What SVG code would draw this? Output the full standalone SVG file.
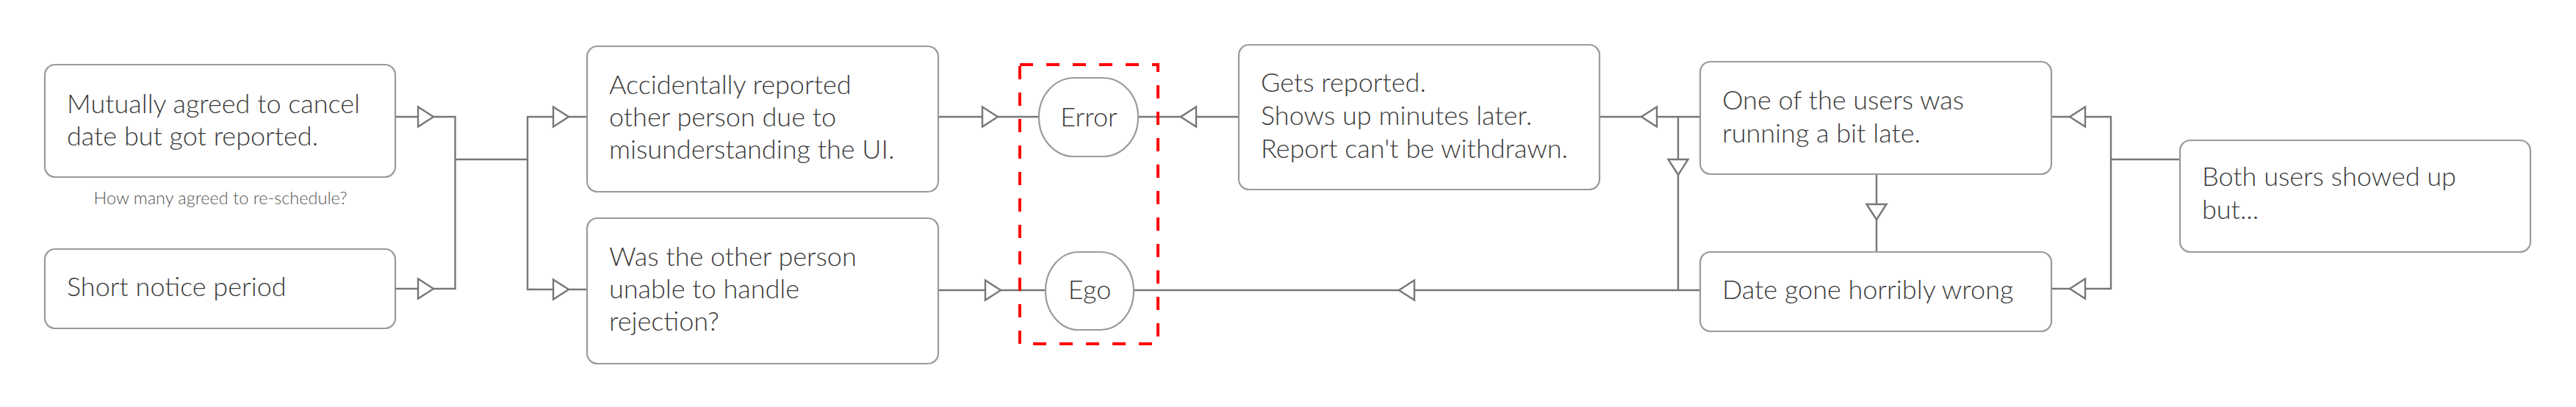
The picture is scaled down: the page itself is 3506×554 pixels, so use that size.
<svg xmlns="http://www.w3.org/2000/svg" xmlns:xlink="http://www.w3.org/1999/xlink" width="3506" height="554" viewBox="0 0 3506 554">
<style>
.box{fill:#fff;stroke:#9a9a9a;stroke-width:2.2}
.t{font-family:Lato,"Open Sans","Liberation Sans",sans-serif;font-weight:300;font-size:36px;fill:#3a3a3a}
.tc{text-anchor:middle}
.cap{font-family:Lato,"Open Sans","Liberation Sans",sans-serif;font-weight:300;font-size:23.5px;fill:#555;text-anchor:middle}
.ln{fill:none;stroke:#777;stroke-width:2.4}
.ah{fill:#fff;stroke:#777;stroke-width:2.4;stroke-linejoin:miter}
.grp{fill:none;stroke:#ff0000;stroke-width:4;stroke-dasharray:18 18}
</style>
<defs>
<path id="tri" d="M0 0 L-21 -13.5 L-21 13.5 Z"/>
</defs>
<rect width="3506" height="554" fill="#fff"/>
<g id="connectors">
<path class="ln" d="M539 159 H619.5 V393 H539"/>
<path class="ln" d="M619.5 217 H718"/>
<path class="ln" d="M799 159 H718 V394 H799"/>
<path class="ln" d="M1277 159 H1414"/>
<path class="ln" d="M1277 395 H1423"/>
<path class="ln" d="M1549 159 H1686"/>
<path class="ln" d="M2177 159 H2314"/>
<path class="ln" d="M2284 159 V395"/>
<path class="ln" d="M1543 395 H2314"/>
<path class="ln" d="M2554 237 V343"/>
<path class="ln" d="M2792 159 H2873 V393 H2792"/>
<path class="ln" d="M2873 217 H2967"/>
<use xlink:href="#tri" class="ah" transform="translate(590 159)"/>
<use xlink:href="#tri" class="ah" transform="translate(590 393)"/>
<use xlink:href="#tri" class="ah" transform="translate(774 159)"/>
<use xlink:href="#tri" class="ah" transform="translate(774 394)"/>
<use xlink:href="#tri" class="ah" transform="translate(1358 159)"/>
<use xlink:href="#tri" class="ah" transform="translate(1362 395)"/>
<use xlink:href="#tri" class="ah" transform="translate(1607 159) rotate(180)"/>
<use xlink:href="#tri" class="ah" transform="translate(2234 159) rotate(180)"/>
<use xlink:href="#tri" class="ah" transform="translate(1904 395) rotate(180)"/>
<use xlink:href="#tri" class="ah" transform="translate(2817 159) rotate(180)"/>
<use xlink:href="#tri" class="ah" transform="translate(2817 393) rotate(180)"/>
<use xlink:href="#tri" class="ah" transform="translate(2284 238) rotate(90)"/>
<use xlink:href="#tri" class="ah" transform="translate(2554 299) rotate(90)"/>
</g>
<g id="n1">
<rect class="box" x="61" y="88" width="477" height="153" rx="14"/>
<text class="t" x="91" y="154">Mutually agreed to cancel</text>
<text class="t" x="91" y="198">date but got reported.</text>
</g>
<g id="n1-note">
<text class="cap" x="300" y="278">How many agreed to re-schedule?</text>
</g>
<g id="n2">
<rect class="box" x="61" y="339" width="477" height="108" rx="14"/>
<text class="t" x="91" y="403">Short notice period</text>
</g>
<g id="n3">
<rect class="box" x="799" y="63" width="478" height="198" rx="14"/>
<text class="t" x="829" y="128">Accidentally reported</text>
<text class="t" x="829" y="172">other person due to</text>
<text class="t" x="829" y="216">misunderstanding the UI.</text>
</g>
<g id="n4">
<rect class="box" x="799" y="297" width="478" height="198" rx="14"/>
<text class="t" x="829" y="362">Was the other person</text>
<text class="t" x="829" y="406">unable to handle</text>
<text class="t" x="829" y="450">rejection?</text>
</g>
<g id="group">
<rect class="grp" x="1388" y="88" width="188" height="380"/>
</g>
<g id="n-error">
<rect class="box" x="1414" y="106" width="135" height="107" rx="48" ry="53"/>
<text class="t tc" x="1482" y="172">Error</text>
</g>
<g id="n-ego">
<rect class="box" x="1423" y="343" width="120" height="106" rx="45" ry="53"/>
<text class="t tc" x="1483" y="407">Ego</text>
</g>
<g id="n5">
<rect class="box" x="1686" y="61" width="491" height="197" rx="14"/>
<text class="t" x="1716" y="125">Gets reported.</text>
<text class="t" x="1716" y="170">Shows up minutes later.</text>
<text class="t" x="1716" y="215">Report can't be withdrawn.</text>
</g>
<g id="n6">
<rect class="box" x="2314" y="84" width="478" height="153" rx="14"/>
<text class="t" x="2344" y="149">One of the users was</text>
<text class="t" x="2344" y="194">running a bit late.</text>
</g>
<g id="n7">
<rect class="box" x="2314" y="343" width="478" height="108" rx="14"/>
<text class="t" x="2344" y="407">Date gone horribly wrong</text>
</g>
<g id="n8">
<rect class="box" x="2967" y="191" width="477" height="152" rx="14"/>
<text class="t" x="2997" y="253">Both users showed up</text>
<text class="t" x="2997" y="298">but...</text>
</g>
</svg>
